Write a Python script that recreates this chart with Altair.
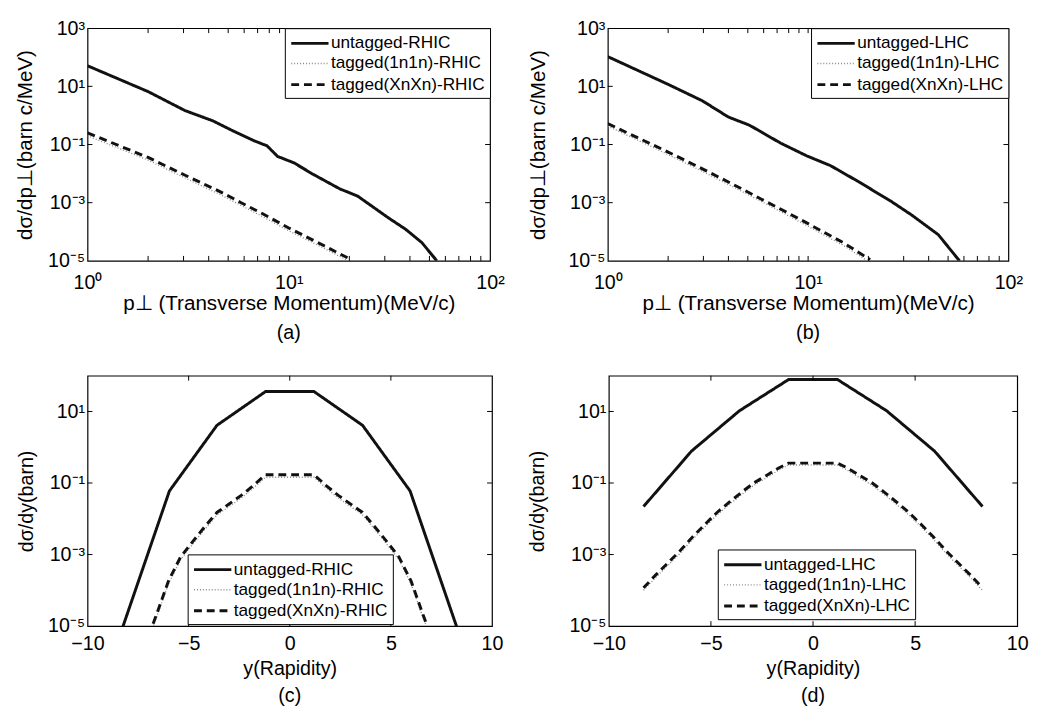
import altair as alt
import pandas as pd

FONT = "Liberation Sans"
BLACK = "#111111"
GRAY = "#8a8a8a"
TICK = 5

# ---------------- data ----------------
SERIES_RHIC = ["untagged-RHIC", "tagged(1n1n)-RHIC", "tagged(XnXn)-RHIC"]
SERIES_LHC = ["untagged-LHC", "tagged(1n1n)-LHC", "tagged(XnXn)-LHC"]

# (a) transverse momentum, RHIC
a_untag_x = [1, 2, 3.05, 4.2, 5.2, 6.7, 7.8, 8.8, 10.6, 13.2, 17.9, 22, 31.5, 38, 45.9, 54.4]
a_untag_y = [51, 6.6, 1.47, 0.65, 0.31, 0.136, 0.09, 0.039, 0.0235, 0.0095, 0.003, 0.00168,
             2.9e-4, 1.23e-4, 4.2e-5, 1e-5]
a_1n1n_x = [1, 2, 3, 4.5, 5.8, 7.5, 10, 15, 20]
a_1n1n_y = [0.2, 0.029, 0.0075, 0.002, 8e-4, 3.2e-4, 1.08e-4, 2.7e-5, 9.5e-6]
a_xnxn_x = [1, 2, 3, 4.5, 5.8, 7.5, 10, 15, 20.4]
a_xnxn_y = [0.25, 0.036, 0.0093, 0.0025, 0.001, 4.0e-4, 1.35e-4, 3.3e-5, 1.1e-5]

# (b) transverse momentum, LHC
b_untag_x = [1, 2, 2.96, 4, 5.1, 7.3, 9.9, 12.9, 18.1, 26.3, 33, 44.7, 57]
b_untag_y = [105, 11.7, 3.2, 0.88, 0.46, 0.111, 0.040, 0.019, 0.005, 1.05e-3, 3.7e-4, 7.9e-5, 1e-5]
b_1n1n_x = [1, 1.5, 2, 3, 4.5, 6, 8, 10, 15, 20]
b_1n1n_y = [0.43, 0.115, 0.045, 0.0115, 0.0028, 0.001, 3.5e-4, 1.55e-4, 3.4e-5, 9.5e-6]
b_xnxn_x = [1, 1.5, 2, 3, 4.5, 6, 8, 10, 15, 20.4]
b_xnxn_y = [0.52, 0.14, 0.055, 0.014, 0.0034, 0.0012, 4.3e-4, 1.9e-4, 4.2e-5, 1.1e-5]

# (c) rapidity, RHIC
c_untag_x = [-8.3, -5.95, -3.6, -1.2, 1.2, 3.6, 5.95, 8.3]
c_untag_y = [8e-6, 0.06, 4.1, 36, 36, 4.1, 0.06, 8e-6]
c_tag_x = [-7.2, -6.6, -6.0, -5.4, -4.8, -4.2, -3.6, -3.0, -2.4, -1.8, -1.2,
           1.2, 1.8, 2.4, 3.0, 3.6, 4.2, 4.8, 5.4, 6.0, 6.6, 7.2]
c_1n1n_y = [2.1e-6, 1.7e-5, 1.5e-4, 7.2e-4, 1.95e-3, 5.1e-3, 0.0128, 0.022, 0.038, 0.072, 0.145,
            0.145, 0.072, 0.038, 0.022, 0.0128, 5.1e-3, 1.95e-3, 7.2e-4, 1.5e-4, 1.7e-5, 2.1e-6]
c_xnxn_y = [2.5e-6, 2.0e-5, 1.8e-4, 8.5e-4, 2.3e-3, 6.0e-3, 0.015, 0.026, 0.045, 0.085, 0.17,
            0.17, 0.085, 0.045, 0.026, 0.015, 6.0e-3, 2.3e-3, 8.5e-4, 1.8e-4, 2.0e-5, 2.5e-6]

# (d) rapidity, LHC
d_untag_x = [-8.3, -5.95, -3.6, -1.2, 1.2, 3.6, 5.95, 8.3]
d_untag_y = [0.022, 0.78, 10.5, 78, 78, 10.5, 0.78, 0.022]
d_tag_x = [-8.3, -7.7, -7.1, -6.5, -5.9, -5.3, -4.7, -4.1, -3.5, -2.9, -2.3, -1.7, -1.2,
           1.2, 1.7, 2.3, 2.9, 3.5, 4.1, 4.7, 5.3, 5.9, 6.5, 7.1, 7.7, 8.3]
d_1n1n_y = [1.0e-4, 2.3e-4, 5.0e-4, 1.1e-3, 2.65e-3, 5.9e-3, 0.0128, 0.025, 0.047, 0.086, 0.138, 0.225, 0.32,
            0.32, 0.225, 0.138, 0.086, 0.047, 0.025, 0.0128, 5.9e-3, 2.65e-3, 1.1e-3, 5.0e-4, 2.3e-4, 1.0e-4]
d_xnxn_y = [1.17e-4, 2.7e-4, 5.9e-4, 1.3e-3, 3.1e-3, 6.9e-3, 0.015, 0.029, 0.055, 0.10, 0.16, 0.26, 0.36,
            0.36, 0.26, 0.16, 0.10, 0.055, 0.029, 0.015, 6.9e-3, 3.1e-3, 1.3e-3, 5.9e-4, 2.7e-4, 1.17e-4]

# axis ticks and labels
pt_x_ticks = [1, 10, 100]
pt_x_labels = ["10⁰", "10¹", "10²"]
pt_x_inner = [2, 3, 4, 5, 6, 7, 8, 9, 10, 20, 30, 40, 50, 60, 70, 80, 90]
pt_y_ticks = [1e-5, 1e-3, 1e-1, 1e1, 1e3]
pt_y_labels = ["10⁻⁵", "10⁻³", "10⁻¹", "10¹", "10³"]
pt_y_inner = [1e-3, 1e-1, 1e1]

y_x_ticks = [-10, -5, 0, 5, 10]
y_x_labels = ["−10", "−5", "0", "5", "10"]
y_x_inner = [-5, 0, 5]
y_y_ticks = [1e-5, 1e-3, 1e-1, 1e1]
y_y_labels = ["10⁻⁵", "10⁻³", "10⁻¹", "10¹"]
y_y_inner = [1e-3, 1e-1, 1e1]


def label_expr(values, labels, log):
    expr = "''"
    for i in range(len(values) - 1, -1, -1):
        v = values[i]
        if log:
            cond = f"abs(log(datum.value) - log({v})) < 0.01"
        else:
            cond = f"abs(datum.value - ({v})) < 0.001"
        expr = f"{cond} ? '{labels[i]}' : ({expr})"
    return expr


def long_df(series, xs_list, ys_list):
    rows = []
    for name, xs, ys in zip(series, xs_list, ys_list):
        for i, (x, y) in enumerate(zip(xs, ys)):
            rows.append({"x": x, "y": y, "series": name, "order": i})
    return pd.DataFrame(rows)


def panel(df, series, xscale, yscale, xaxis, yaxis, legend, x_inner, y_inner, W, H, caption, cap_off):
    X = alt.X("x:Q", scale=xscale, axis=xaxis)
    Y = alt.Y("y:Q", scale=yscale, axis=yaxis)
    lines = alt.Chart(df).mark_line(clip=True).encode(
        x=X, y=Y,
        color=alt.Color("series:N", sort=series,
                        scale=alt.Scale(domain=series, range=[BLACK, GRAY, BLACK]), legend=legend),
        strokeDash=alt.StrokeDash("series:N", sort=series,
                                  scale=alt.Scale(domain=series, range=[[1, 0], [1, 2], [8, 5]]),
                                  legend=legend),
        strokeWidth=alt.StrokeWidth("series:N", sort=series,
                                    scale=alt.Scale(type="ordinal", domain=series, range=[3, 1.4, 3]),
                                    legend=legend),
        order="order:Q",
    )
    xt = pd.DataFrame({"x": x_inner})
    yt = pd.DataFrame({"y": y_inner})
    rule = dict(color="black", strokeWidth=1)
    bottom = alt.Chart(xt).mark_rule(**rule).encode(x=X, y=alt.value(H), y2=alt.value(H - TICK))
    top = alt.Chart(xt).mark_rule(**rule).encode(x=X, y=alt.value(0), y2=alt.value(TICK))
    left = alt.Chart(yt).mark_rule(**rule).encode(y=Y, x=alt.value(0), x2=alt.value(TICK))
    right = alt.Chart(yt).mark_rule(**rule).encode(y=Y, x=alt.value(W), x2=alt.value(W - TICK))
    return alt.layer(lines, bottom, top, left, right).properties(
        width=W, height=H,
        title=alt.TitleParams(caption, orient="bottom", frame="group", fontSize=20,
                              fontWeight="normal", font=FONT, color="black", offset=cap_off),
    )


def make_legend(**kw):
    # a horizontal stroke ~38px long drawn from a custom path, with a compact row height
    return alt.Legend(title=None, strokeColor="black", fillColor="white", padding=5,
                      labelFontSize=17.5, labelFont=FONT, labelColor="black", labelOffset=21,
                      labelLimit=400, symbolType="M-1,0H3.22", symbolSize=324, rowPadding=2, **kw)


pt_xscale = alt.Scale(type="log", domain=[1, 100], nice=False)
pt_yscale = alt.Scale(type="log", domain=[1e-5, 1e3], nice=False)
y_xscale = alt.Scale(domain=[-10, 10], nice=False, zero=False)
y_yscale = alt.Scale(type="log", domain=[1e-5, 1e2], nice=False)


def xaxis(title, values, labels, log, lp, tp, fs):
    return alt.Axis(title=title, values=values, labelExpr=label_expr(values, labels, log),
                    labelFlush=False, labelPadding=lp, titlePadding=tp, labelFontSize=20,
                    titleFontSize=fs)


def yaxis(title, values, labels, lp, tp, fs):
    return alt.Axis(title=title, values=values, labelExpr=label_expr(values, labels, True),
                    labelPadding=lp, titlePadding=tp, labelFontSize=20, titleFontSize=fs)


pt_xtitle = "p⊥ (Transverse Momentum)(MeV/c)"
pt_ytitle = "dσ/dp⊥(barn c/MeV)"

chart_a = panel(long_df(SERIES_RHIC, [a_untag_x, a_1n1n_x, a_xnxn_x], [a_untag_y, a_1n1n_y, a_xnxn_y]),
                SERIES_RHIC, pt_xscale, pt_yscale,
                xaxis(pt_xtitle, pt_x_ticks, pt_x_labels, True, 12, 1, 21),
                yaxis(pt_ytitle, pt_y_ticks, pt_y_labels, 3, 13, 21),
                make_legend(orient="top-right", offset=0), pt_x_inner, pt_y_inner, 410, 237,
                "(a)", 10)
chart_b = panel(long_df(SERIES_LHC, [b_untag_x, b_1n1n_x, b_xnxn_x], [b_untag_y, b_1n1n_y, b_xnxn_y]),
                SERIES_LHC, pt_xscale, pt_yscale,
                xaxis(pt_xtitle, pt_x_ticks, pt_x_labels, True, 12, 1, 21),
                yaxis(pt_ytitle, pt_y_ticks, pt_y_labels, 3, 20, 21),
                make_legend(orient="top-right", offset=0), pt_x_inner, pt_y_inner, 408, 237,
                "(b)", 10)
chart_c = panel(long_df(SERIES_RHIC, [c_untag_x, c_tag_x, c_tag_x], [c_untag_y, c_1n1n_y, c_xnxn_y]),
                SERIES_RHIC, y_xscale, y_yscale,
                xaxis("y(Rapidity)", y_x_ticks, y_x_labels, False, 8, 5, 20),
                yaxis("dσ/dy(barn)", y_y_ticks, y_y_labels, 3, 11, 20),
                make_legend(orient="none", legendX=102, legendY=182), y_x_inner, y_y_inner,
                412, 255, "(c)", 8)
chart_d = panel(long_df(SERIES_LHC, [d_untag_x, d_tag_x, d_tag_x], [d_untag_y, d_1n1n_y, d_xnxn_y]),
                SERIES_LHC, y_xscale, y_yscale,
                xaxis("y(Rapidity)", y_x_ticks, y_x_labels, False, 8, 5, 20),
                yaxis("dσ/dy(barn)", y_y_ticks, y_y_labels, 3, 22, 20),
                make_legend(orient="none", legendX=111, legendY=177), y_x_inner, y_y_inner,
                416, 255, "(d)", 8)

indep = dict(color="independent", strokeDash="independent", strokeWidth="independent")

chart = alt.concat(
    chart_a, chart_b, chart_c, chart_d,
    columns=2, align="none", bounds="full", spacing={"row": 30, "column": 21},
).resolve_scale(**indep).resolve_legend(**indep).properties(
    padding={"left": 5, "top": 3, "right": 0, "bottom": 0}
).configure(font=FONT).configure_view(
    stroke="black", strokeWidth=1.2
).configure_axis(
    domain=False, ticks=False, grid=False, labelFontSize=20, titleFontSize=20,
    labelColor="black", titleColor="black", titleFontWeight="normal", labelFont=FONT, titleFont=FONT
)

chart.save("out.html", embed_options={"renderer": "svg", "actions": False})
